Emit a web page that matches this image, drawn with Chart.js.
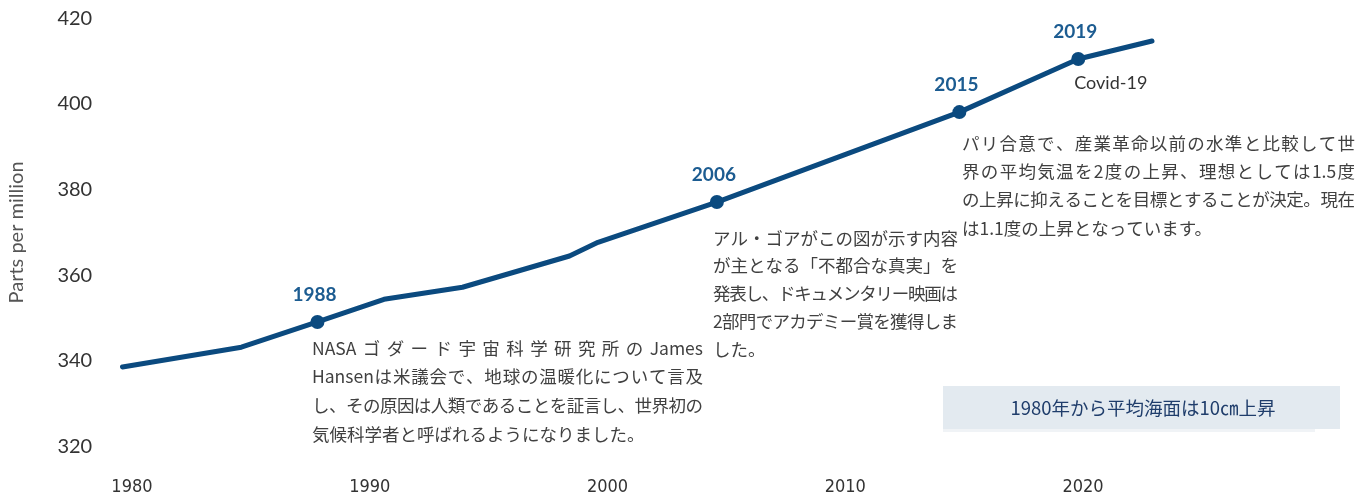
<!DOCTYPE html>
<html>
<head>
<meta charset="utf-8">
<script src="https://cdn.jsdelivr.net/npm/chart.js@4.4.0/dist/chart.umd.min.js"></script>
<style>
  html, body { margin: 0; padding: 0; background: #fff; }
  #wrap { width: 1372px; height: 497px; }
</style>
</head>
<body>
<div id="wrap"><canvas id="co2Chart" width="1372" height="497"></canvas></div>
<script>
// ---------- Data ----------
const years = [1979.6, 1984.6, 1987.8, 1990.6, 1993.9, 1998.4, 1999.6, 2004.6, 2014.8, 2018.6, 2019.8, 2022.9];
const ppm = [338.6, 343.2, 349.1, 354.4, 357.2, 364.5, 367.7, 377.1, 398.1, 407.5, 410.5, 414.7];
const markerYears = [1987.8, 2004.6, 2014.8, 2019.8];
const markerLabels = ['1988', '2006', '2015', '2019'];
const xTicks = [1980, 1990, 2000, 2010, 2020];
const yTicks = [320, 340, 360, 380, 400, 420];

const note1988 = [
  'NASA ゴダード宇宙科学研究所の James',
  'Hansenは米議会で、地球の温暖化について言及',
  'し、その原因は人類であることを証言し、世界初の',
  '気候科学者と呼ばれるようになりました。'
];
const note2006 = [
  'アル・ゴアがこの図が示す内容',
  'が主となる「不都合な真実」を',
  '発表し、ドキュメンタリー映画は',
  '2部門でアカデミー賞を獲得しま',
  'した。'
];
const note2015 = [
  'パリ合意で、産業革命以前の水準と比較して世',
  '界の平均気温を2度の上昇、理想としては1.5度',
  'の上昇に抑えることを目標とすることが決定。現在',
  'は1.1度の上昇となっています。'
];
const covidLabel = 'Covid-19';
const seaLevelNote = '1980年から平均海面は10㎝上昇';

// ---------- Styles ----------
const LINE_BLUE = '#0b4a7f';
const JP_FONT = '"Noto Sans CJK JP", "Noto Sans", sans-serif';

// draw one line of text spread to a given width (CJK chars spread, latin words kept)
function drawJustified(ctx, text, x, y, width) {
  const tokens = (text.match(/[A-Za-z0-9.\-]+|\s+|./gu) || []).filter(t => t.trim() !== '');
  const widths = tokens.map(t => ctx.measureText(t).width);
  const natural = widths.reduce((a, b) => a + b, 0);
  const gap = tokens.length > 1 ? (width - natural) / (tokens.length - 1) : 0;
  let cx = x;
  tokens.forEach((t, i) => {
    ctx.fillText(t, cx, y);
    cx += widths[i] + gap;
  });
}

function drawNote(ctx, lines, x, y, lh, width, size) {
  ctx.save();
  ctx.font = size + 'px ' + JP_FONT;
  ctx.fillStyle = '#404040';
  ctx.textAlign = 'left';
  ctx.textBaseline = 'middle';
  lines.forEach((line, i) => {
    const last = i === lines.length - 1;
    if (last) ctx.fillText(line, x, y + i * lh);
    else drawJustified(ctx, line, x, y + i * lh, width);
  });
  ctx.restore();
}

const notesPlugin = {
  id: 'notes',
  afterDatasetsDraw(chart) {
    const ctx = chart.ctx;
    const xs = chart.scales.x, ys = chart.scales.y;

    // year labels above the markers
    ctx.save();
    ctx.font = 'bold 19px Lato, "Open Sans", sans-serif';
    ctx.fillStyle = '#1c5c91';
    ctx.textAlign = 'center';
    ctx.textBaseline = 'middle';
    markerYears.forEach((yr, i) => {
      const idx = years.indexOf(yr);
      const px = xs.getPixelForValue(yr);
      const py = ys.getPixelForValue(ppm[idx]);
      ctx.fillText(markerLabels[i], px - 3, py - 27);
    });

    // Covid-19 under the 2019 marker
    const covIdx = years.indexOf(markerYears[3]);
    ctx.font = '18px Lato, "Open Sans", sans-serif';
    ctx.fillStyle = '#333';
    ctx.textAlign = 'left';
    ctx.fillText(covidLabel, xs.getPixelForValue(markerYears[3]) - 4, ys.getPixelForValue(ppm[covIdx]) + 24);
    ctx.restore();

    // text notes
    drawNote(ctx, note1988, 312, 348, 28.7, 391, 17.5);
    drawNote(ctx, note2006, 713, 238, 27.8, 245, 17.5);
    drawNote(ctx, note2015, 962, 143, 28.3, 393, 17.5);

    // sea level box
    ctx.save();
    ctx.fillStyle = '#f0f3f6';
    ctx.fillRect(943, 428, 372, 4);
    ctx.fillStyle = '#e3eaf0';
    ctx.fillRect(943, 386, 397, 43);
    ctx.font = '18.5px ' + JP_FONT;
    ctx.fillStyle = '#1f3d6b';
    ctx.textAlign = 'center';
    ctx.textBaseline = 'middle';
    ctx.fillText(seaLevelNote, 1143, 408);
    ctx.restore();
  }
};

// ---------- Chart ----------
const ctx = document.getElementById('co2Chart').getContext('2d');
new Chart(ctx, {
  type: 'line',
  data: {
    datasets: [{
      label: 'CO2 (ppm)',
      data: years.map((x, i) => ({ x: x, y: ppm[i] })),
      borderColor: LINE_BLUE,
      backgroundColor: LINE_BLUE,
      borderWidth: 5,
      borderCapStyle: 'round',
      borderJoinStyle: 'round',
      tension: 0,
      fill: false,
      pointRadius: c => markerYears.includes(years[c.dataIndex]) ? 7 : 0,
      pointHoverRadius: 0,
      pointBorderWidth: 0,
      pointBackgroundColor: LINE_BLUE
    }]
  },
  options: {
    responsive: false,
    animation: false,
    layout: { padding: { top: 18.3, right: 51.2, bottom: 0, left: 0 } },
    plugins: {
      legend: { display: false },
      tooltip: { enabled: false }
    },
    scales: {
      x: {
        type: 'linear',
        min: 1979,
        max: 2030,
        afterBuildTicks: axis => { axis.ticks = xTicks.map(v => ({ value: v })); },
        afterFit: axis => { axis.height = 50.4; axis.paddingLeft = 0; axis.paddingRight = 0; },
        grid: { display: false, drawTicks: false },
        border: { display: false },
        ticks: {
          padding: 30,
          color: '#333',
          font: { family: '"Liberation Sans Narrow", "DejaVu Sans Condensed", sans-serif', size: 18 },
          callback: v => String(v)
        }
      },
      y: {
        min: 320,
        max: 420,
        afterBuildTicks: axis => { axis.ticks = yTicks.map(v => ({ value: v })); },
        afterFit: axis => { axis.width = 108.2; axis.paddingTop = 0; axis.paddingBottom = 0; },
        grid: { display: false, drawTicks: false },
        border: { display: false },
        ticks: {
          padding: 16,
          color: '#333',
          font: { family: 'Lato, "Open Sans", sans-serif', size: 20 }
        },
        title: {
          display: true,
          text: 'Parts per million',
          color: '#555',
          font: { family: 'Lato, "Open Sans", sans-serif', size: 20 },
          padding: { top: 5, bottom: 0 }
        }
      }
    }
  },
  plugins: [notesPlugin]
});
</script>
</body>
</html>
